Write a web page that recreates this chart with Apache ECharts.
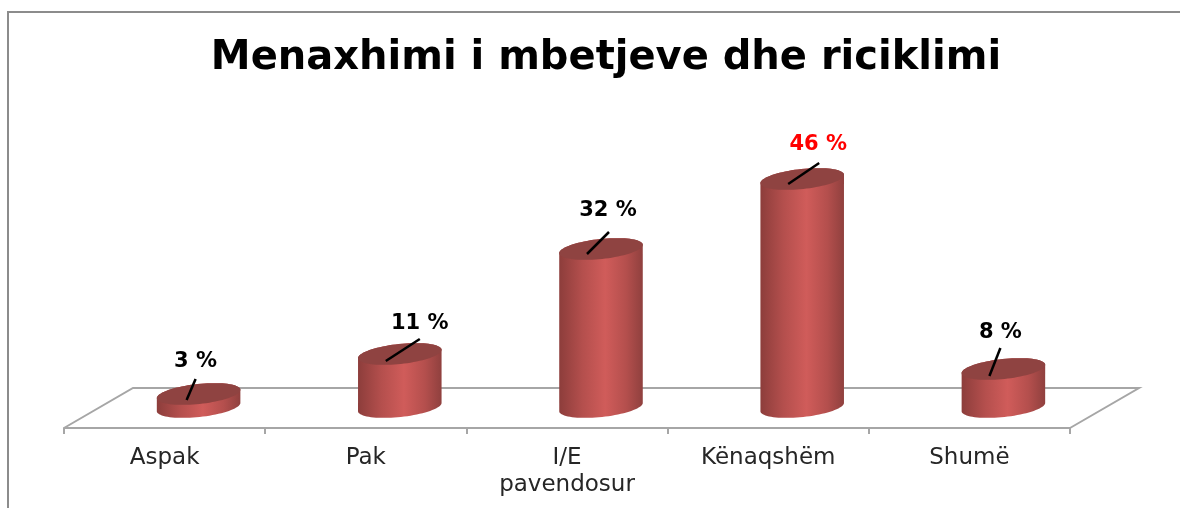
<!DOCTYPE html>
<html><head><meta charset="utf-8">
<style>html,body{margin:0;padding:0;background:#fff}#c{width:1180px;height:508px}</style>
<script src="https://cdn.jsdelivr.net/npm/echarts@6/dist/echarts.min.js"></script>
</head><body><div id="c"></div>
<script>
const titleText = 'Menaxhimi i mbetjeve dhe riciklimi';
const categories = ['Aspak', 'Pak', 'I/E\npavendosur', 'Kënaqshëm', 'Shumë'];
const percentValues = [3, 11, 32, 46, 8];
const labelColors = ['#000', '#000', '#000', '#f00', '#000'];
// leader line end and label offsets from the top centre of each cylinder
const leaderStart = [[-12, 6], [-14, 7], [-14, 5], [-14, 5], [-14, 7]];
const leaderEnd = [[-3, -15], [20, -15], [8, -17], [17, -16], [-3, -21]];
const labelOffset = [[-3, -32], [20, -30], [7, -38], [16, -34], [-3, -36]];

const depthX = 34, floorDepthX = 69, floorDepthY = 40, cylRx = 42, cylRy = 10, tilt = -6, baseLift = 2, axisDrop = 19;
const tiltRad = tilt * Math.PI / 180;
const sin = Math.sin(tiltRad), cos = Math.cos(tiltRad);

// point on the tilted ellipse rim, a = 0 at the right end, PI/2 at the front
function rim(cx, cy, a) {
  const ex = cylRx * Math.cos(a), ey = cylRy * Math.sin(a);
  return [cx + ex * cos - ey * sin, cy + ex * sin + ey * cos];
}

function renderCylinder(params, api) {
  const i = params.dataIndex;
  const top = api.coord([api.value(0), api.value(1)]);
  const bot = api.coord([api.value(0), 0]);
  const cx = top[0] + depthX;
  const pts = [];
  const N = 40;
  for (let k = 0; k <= N; k++) pts.push(rim(cx, bot[1] - baseLift, Math.PI * k / N));
  for (let k = 0; k <= N; k++) pts.push(rim(cx, top[1], Math.PI + Math.PI * k / N));
  const topPts = [];
  for (let k = 0; k < 2 * N; k++) topPts.push(rim(cx, top[1], Math.PI * k / N));
  const grad = new echarts.graphic.LinearGradient(cx - cylRx, 0, cx + cylRx, 0, [
    { offset: 0, color: '#8c3d3b' },
    { offset: 0.28, color: '#b44f4d' },
    { offset: 0.55, color: '#d05c5a' },
    { offset: 0.8, color: '#b44f4d' },
    { offset: 1, color: '#8f403e' }
  ], true);
  return {
    type: 'group',
    children: [
      { type: 'polygon', shape: { points: pts }, style: { fill: grad } },
      { type: 'polygon', shape: { points: topPts }, style: { fill: '#8f4341' } },
      { type: 'line', shape: { x1: cx + leaderStart[i][0], y1: top[1] + leaderStart[i][1], x2: cx + leaderEnd[i][0], y2: top[1] + leaderEnd[i][1] }, style: { stroke: '#000', lineWidth: 2.5 } },
      { type: 'text', x: cx + labelOffset[i][0], y: top[1] + labelOffset[i][1], style: { text: api.value(1) + ' %', fill: labelColors[i], font: 'bold 21px "DejaVu Sans"', textAlign: 'center', textVerticalAlign: 'middle' } }
    ]
  };
}

function renderFloor(params, api) {
  const cs = params.coordSys;
  const y = api.coord([0, 0])[1] + axisDrop, l = cs.x, r = cs.x + cs.width;
  return { type: 'polyline', shape: { points: [[l, y], [l + floorDepthX, y - floorDepthY], [r + floorDepthX, y - floorDepthY], [r, y]] }, style: { fill: null, stroke: '#a6a6a6', lineWidth: 2 } };
}

const chart = echarts.init(document.getElementById('c'), null, { renderer: 'canvas' });
chart.setOption({
  animation: false,
  backgroundColor: '#fff',
  title: { text: titleText, left: 601, top: 34, textAlign: 'center', textStyle: { fontFamily: 'DejaVu Sans', fontWeight: 'bold', fontSize: 40, color: '#000' } },
  graphic: [{ type: 'polyline', shape: { points: [[8, 508], [8, 12], [1180, 12]] }, style: { fill: null, stroke: '#8c8c8c', lineWidth: 2 } }],
  grid: { left: 64, right: 110, top: 159, bottom: 99 },
  xAxis: {
    type: 'category', data: categories, offset: axisDrop,
    axisLine: { onZero: false, lineStyle: { color: '#a6a6a6', width: 2 } },
    axisTick: { show: true, alignWithLabel: false, length: 6, lineStyle: { color: '#a6a6a6', width: 2 } },
    axisLabel: { fontFamily: 'DejaVu Sans', fontSize: 23, color: '#262626', margin: 17, lineHeight: 27, interval: 0 }
  },
  yAxis: { type: 'value', min: 0, max: 50, show: false },
  series: [
    { type: 'custom', coordinateSystem: 'cartesian2d', data: [[0, 0]], renderItem: renderFloor, z: 1, silent: true },
    { type: 'custom', coordinateSystem: 'cartesian2d', data: percentValues.map((v, i) => [i, v]), encode: { x: 0, y: 1 }, renderItem: renderCylinder, z: 2 }
  ]
});
</script></body></html>
